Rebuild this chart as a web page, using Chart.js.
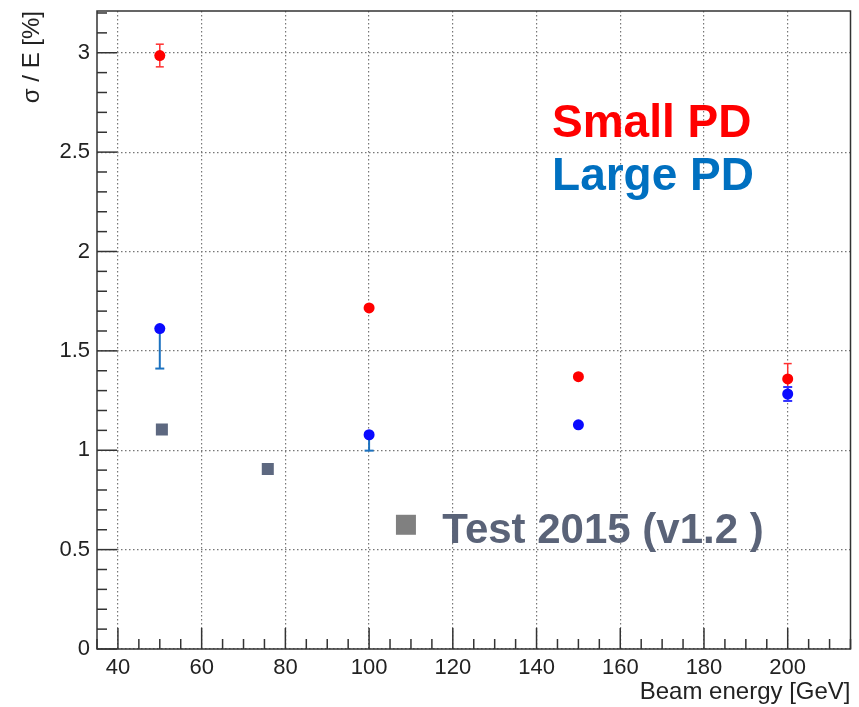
<!DOCTYPE html>
<html>
<head>
<meta charset="utf-8">
<script src="https://cdn.jsdelivr.net/npm/chart.js@4.4.1/dist/chart.umd.min.js"></script>
<style>
  html, body { margin: 0; padding: 0; background: #fff; }
  #wrap { width: 859px; height: 707px; }
</style>
</head>
<body>
<div id="wrap"><canvas id="c" width="859" height="707"></canvas></div>
<script>
// ---- data ----
const energies = [50, 100, 150, 200];
const smallPD = [2.986, 1.716, 1.370, 1.359];
const smallPDErr = [0.057, 0.01, 0.01, 0.077];
const largePD = [1.612, 1.078, 1.128, 1.283];
const largePDErrLow = [0.201, 0.080, 0.01, 0.035];
const largePDErrHigh = [0.0, 0.0, 0.01, 0.035];
const test2015X = [50.5, 75.8];
const test2015Y = [1.104, 0.906];
const xTickValues = [40, 60, 80, 100, 120, 140, 160, 180, 200];
const yTickValues = [0, 0.5, 1, 1.5, 2, 2.5, 3];
const xTitle = 'Beam energy [GeV]';
const yTitle = 'σ / E [%]';
const labelSmall = 'Small PD';
const labelLarge = 'Large PD';
const labelTest = 'Test 2015 (v1.2 )';

const FONT = '"Liberation Sans", Arial, Helvetica, sans-serif';

function pts(xs, ys) { return xs.map((x, i) => ({ x: x, y: ys[i] })); }

const rootPlugin = {
  id: 'rootStyle',
  beforeDatasetsDraw(chart) {
    const ctx = chart.ctx, a = chart.chartArea;
    const xs = chart.scales.x, ys = chart.scales.y;
    ctx.save();
    ctx.strokeStyle = '#333';
    ctx.lineWidth = 1.5;
    ctx.strokeRect(a.left, a.top, a.right - a.left, a.bottom - a.top);
    for (let v = 0; v <= ys.max + 1e-9; v += 0.1) {
      const r = Math.round(v * 10) / 10;
      const major = Math.abs(r * 2 - Math.round(r * 2)) < 1e-6;
      const py = ys.getPixelForValue(r);
      ctx.beginPath();
      ctx.moveTo(a.left, py);
      ctx.lineTo(a.left + (major ? 20 : 10), py);
      ctx.stroke();
    }
    for (let v = 35; v <= xs.max + 1e-9; v += 5) {
      const major = v % 20 === 0;
      const px = xs.getPixelForValue(v);
      ctx.beginPath();
      ctx.moveTo(px, a.bottom);
      ctx.lineTo(px, a.bottom - (major ? 21 : 10));
      ctx.stroke();
    }
    function ebar(x, y, lo, hi, color, lw, cap) {
      const px = xs.getPixelForValue(x);
      const p0 = ys.getPixelForValue(y - lo), p1 = ys.getPixelForValue(y + hi);
      ctx.strokeStyle = color; ctx.lineWidth = lw;
      ctx.beginPath(); ctx.moveTo(px, p0); ctx.lineTo(px, p1); ctx.stroke();
      if (lo > 0.015) { ctx.beginPath(); ctx.moveTo(px - cap, p0); ctx.lineTo(px + cap, p0); ctx.stroke(); }
      if (hi > 0.015) { ctx.beginPath(); ctx.moveTo(px - cap, p1); ctx.lineTo(px + cap, p1); ctx.stroke(); }
    }
    energies.forEach((e, i) => {
      ebar(e, smallPD[i], smallPDErr[i], smallPDErr[i], '#ff3030', 1.5, 4);
      const c = largePDErrHigh[i] === 0 ? '#1c72c0' : '#3030ff';
      ebar(e, largePD[i], largePDErrLow[i], largePDErrHigh[i], c, 2, 4.5);
    });
    ctx.restore();
  },
  afterDatasetsDraw(chart) {
    const ctx = chart.ctx;
    const xs = chart.scales.x, ys = chart.scales.y;
    ctx.save();
    ctx.textAlign = 'left';
    ctx.textBaseline = 'alphabetic';
    ctx.font = 'bold 46px ' + FONT;
    ctx.fillStyle = '#ff0000';
    ctx.fillText(labelSmall, xs.getPixelForValue(143.7), ys.getPixelForValue(2.578));
    ctx.fillStyle = '#0070c0';
    ctx.fillText(labelLarge, xs.getPixelForValue(143.7), ys.getPixelForValue(2.31));
    ctx.font = 'bold 42px ' + FONT;
    ctx.fillStyle = '#5a6378';
    ctx.fillText(labelTest, xs.getPixelForValue(117.5), ys.getPixelForValue(0.532));
    const cx = xs.getPixelForValue(108.8), cy = ys.getPixelForValue(0.625);
    ctx.fillStyle = '#808080';
    ctx.fillRect(cx - 10, cy - 10, 20, 20);
    ctx.restore();
  }
};

const chart = new Chart(document.getElementById('c'), {
  type: 'scatter',
  data: {
    datasets: [
      { label: labelTest, data: pts(test2015X, test2015Y), pointStyle: 'rect', pointRadius: 8.5,
        backgroundColor: '#5d6880', borderColor: '#5d6880', borderWidth: 0 },
      { label: labelLarge, data: pts(energies, largePD), pointStyle: 'circle', pointRadius: 5.5,
        backgroundColor: '#0a0aff', borderColor: '#0a0aff', borderWidth: 0 },
      { label: labelSmall, data: pts(energies, smallPD), pointStyle: 'circle', pointRadius: 5.5,
        backgroundColor: '#ff0000', borderColor: '#ff0000', borderWidth: 0 }
    ]
  },
  options: {
    responsive: false,
    animation: false,
    devicePixelRatio: 1,
    layout: { padding: { top: 11, right: 7, left: 0, bottom: 0 } },
    plugins: { legend: { display: false }, tooltip: { enabled: false } },
    scales: {
      x: {
        type: 'linear', min: 35, max: 215,
        afterBuildTicks(s) { s.ticks = xTickValues.map(v => ({ value: v })); },
        afterFit(s) { s.height = 58; s.paddingLeft = 0; s.paddingRight = 0; },
        ticks: { color: '#222', padding: 6,
                 font: { family: FONT, size: 22 }, maxRotation: 0, autoSkip: false,
                 callback: v => String(v) },
        grid: { color: '#777', lineWidth: 1.2, drawTicks: false },
        border: { display: false, dash: [1.5, 2.5] },
        title: { display: true, text: xTitle, align: 'end', color: '#222',
                 font: { family: FONT, size: 24 }, padding: { top: -2, bottom: 0 } }
      },
      y: {
        type: 'linear', min: 0, max: 3.21,
        afterBuildTicks(s) { s.ticks = yTickValues.map(v => ({ value: v })); },
        afterFit(s) { s.width = 97; s.paddingTop = 0; s.paddingBottom = 0; },
        ticks: { color: '#222', padding: 7, autoSkip: false,
                 font: { family: FONT, size: 22 },
                 callback: v => String(Math.round(v * 10) / 10) },
        grid: { color: '#777', lineWidth: 1.2, drawTicks: false },
        border: { display: false, dash: [1.5, 2.5] },
        title: { display: true, text: yTitle, align: 'end', color: '#222',
                 font: { family: FONT, size: 24 }, padding: { top: 18, bottom: 0 } }
      }
    }
  },
  plugins: [rootPlugin]
});
</script>
</body>
</html>
